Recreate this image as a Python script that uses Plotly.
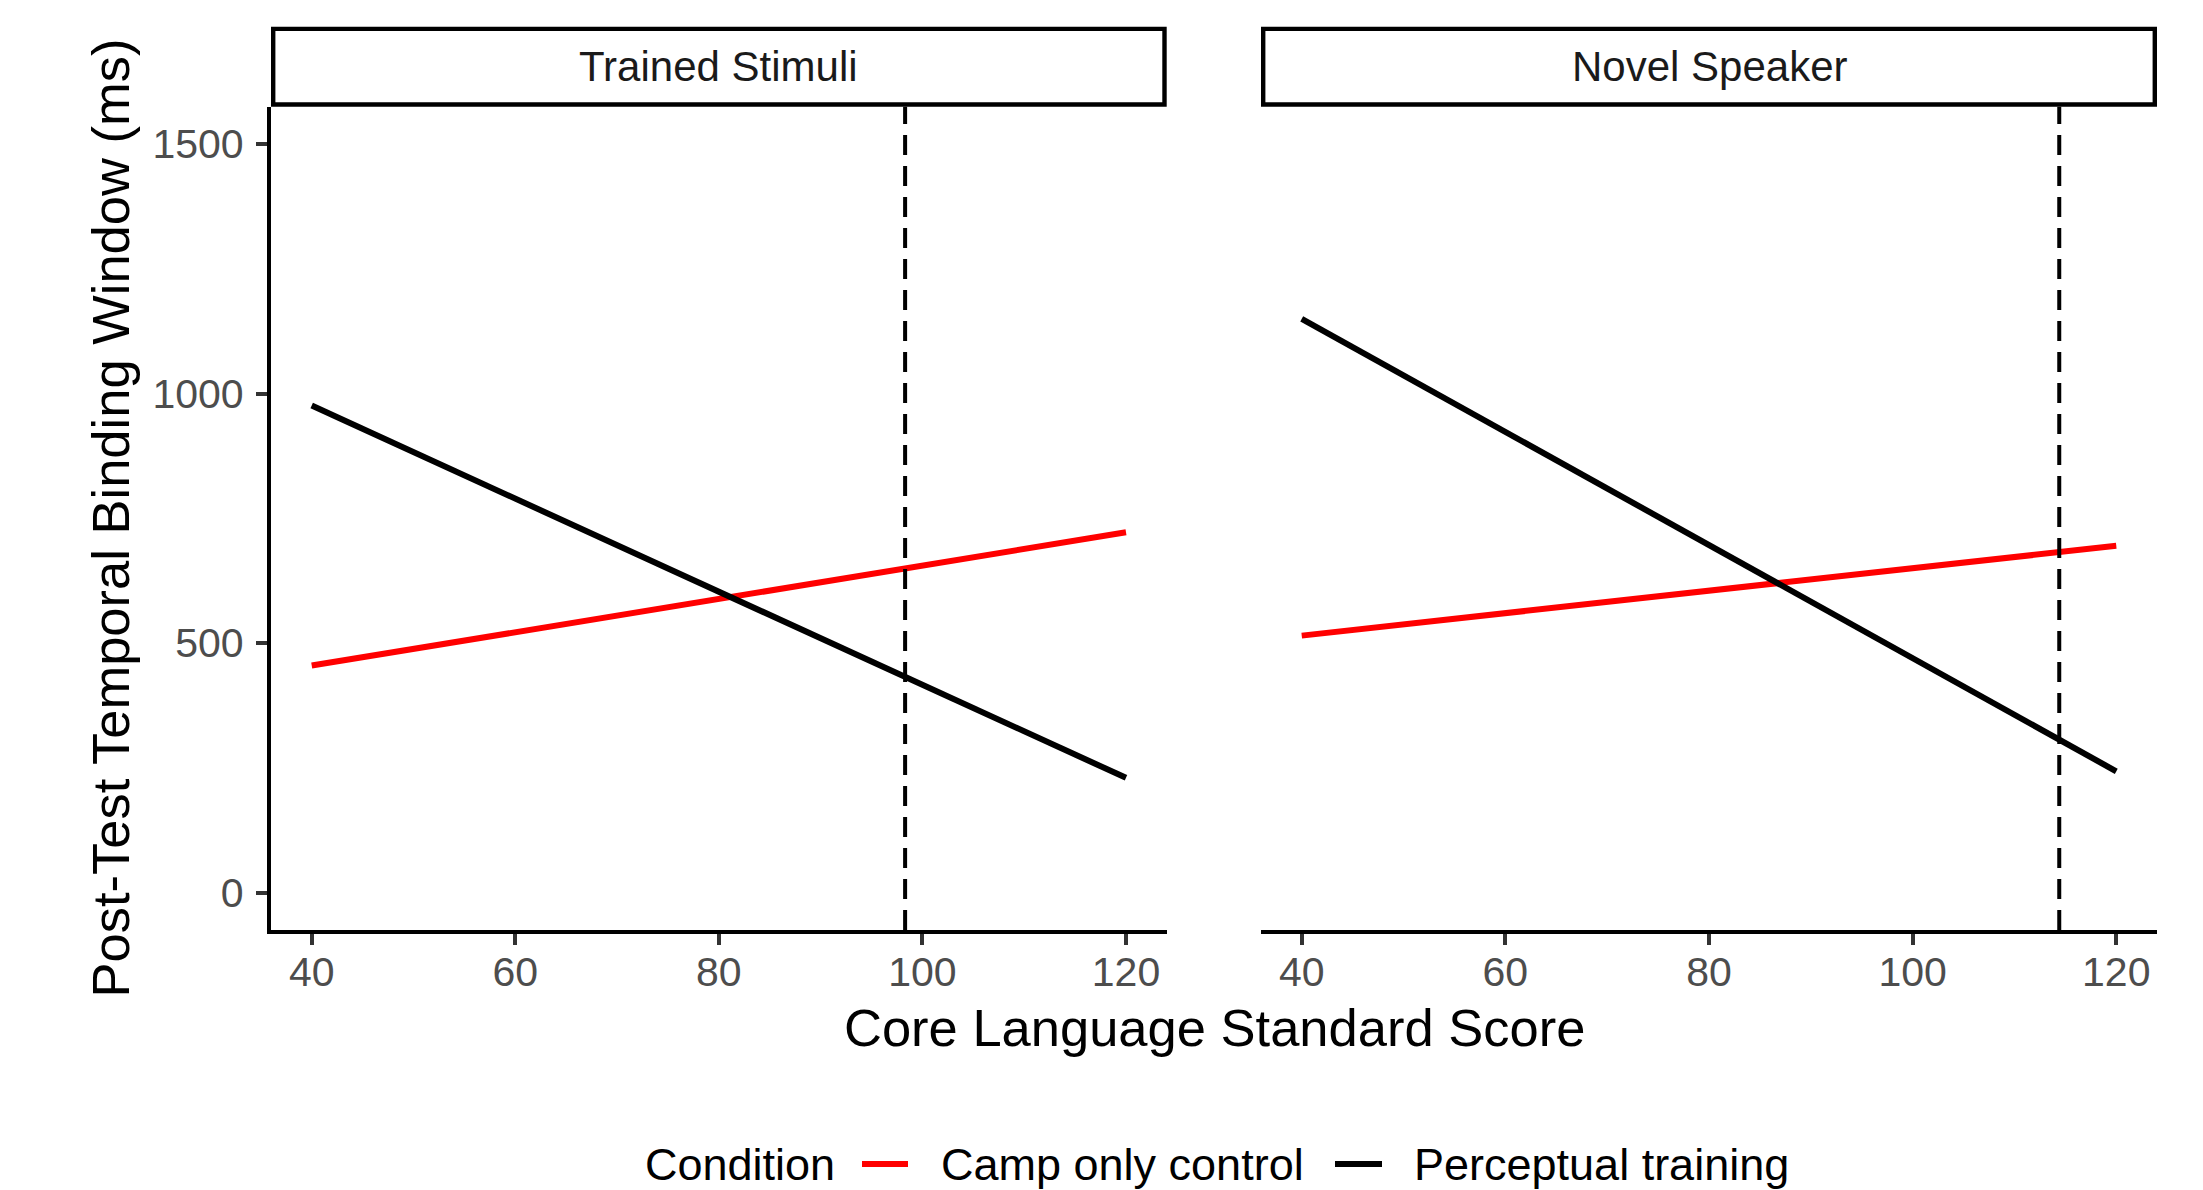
import plotly.graph_objects as go

# ---- data ----
panels = ["Trained Stimuli", "Novel Speaker"]
x_ends = [40, 120]
camp_trained = [455, 722]
perc_trained = [976, 230]
camp_novel = [515, 695]
perc_novel = [1150, 243]
vline_x = [98.3, 114.4]
x_ticks = [40, 60, 80, 100, 120]
y_ticks = [0, 500, 1000, 1500]
series_names = ["Camp only control", "Perceptual training"]
series_colors = ["#FF0000", "#000000"]
legend_title = "Condition"

W, H = 2203, 1190
FONT = "Liberation Sans, Arial, Helvetica, sans-serif"

def px_x(p):
    return p / W

def px_y(p):
    return 1 - p / H

fig = go.Figure()

panel_data = [(camp_trained, perc_trained), (camp_novel, perc_novel)]
for i, (camp, perc) in enumerate(panel_data):
    xa = "x" if i == 0 else "x2"
    ya = "y" if i == 0 else "y2"
    for j, vals in enumerate([camp, perc]):
        fig.add_trace(go.Scatter(
            x=x_ends, y=vals, mode="lines",
            line=dict(color=series_colors[j], width=6),
            name=series_names[j], legendgroup=series_names[j],
            showlegend=False, xaxis=xa, yaxis=ya, hoverinfo="skip"))

xd1 = [px_x(271), px_x(1166.7)]
xd2 = [px_x(1261), px_x(2157)]
yd = [px_y(930), px_y(106.7)]

axis_common = dict(
    range=[36, 124], tickvals=x_ticks, ticks="outside", ticklen=11, tickwidth=4,
    tickcolor="#333333", showline=True, linecolor="#000000", linewidth=4.2,
    showgrid=False, zeroline=False,
    tickfont=dict(family=FONT, size=41, color="#4D4D4D"), ticklabelstandoff=-8,
)

fig.update_layout(
    width=W, height=H,
    margin=dict(l=0, r=0, t=0, b=0),
    paper_bgcolor="white", plot_bgcolor="white",
    font=dict(family=FONT),
    xaxis=dict(domain=xd1, anchor="y", **axis_common),
    xaxis2=dict(domain=xd2, anchor="y2", **axis_common),
    yaxis=dict(domain=yd, anchor="x", range=[-75, 1575], tickvals=y_ticks,
               ticks="outside", ticklen=11, tickwidth=4, tickcolor="#333333",
               showline=True, linecolor="#000000", linewidth=4.2,
               showgrid=False, zeroline=False, ticklabelstandoff=4,
               tickfont=dict(family=FONT, size=41, color="#4D4D4D")),
    yaxis2=dict(domain=yd, anchor="x2", matches="y", range=[-75, 1575],
                showline=False, showticklabels=False, ticks="",
                showgrid=False, zeroline=False),
    showlegend=False,
)

# vertical dashed reference lines
for i, vx in enumerate(vline_x):
    xa = "x" if i == 0 else "x2"
    ya = "y" if i == 0 else "y2"
    fig.add_shape(type="line", xref=xa, yref=ya + " domain", x0=vx, x1=vx, y0=0, y1=1,
                  line=dict(color="#000000", width=4, dash="20px,11px"), layer="above")

# facet strips
strip_bounds = [(271, 1166.7), (1261, 2157)]
for (a, b), label in zip(strip_bounds, panels):
    fig.add_shape(type="rect", xref="paper", yref="paper",
                  x0=px_x(a + 2.2), x1=px_x(b - 2.2), y0=px_y(104.5), y1=px_y(28.9),
                  line=dict(color="#000000", width=4.4), fillcolor="white")
    fig.add_annotation(text=label, xref="paper", yref="paper",
                       x=px_x((a + b) / 2), y=px_y(66.7), showarrow=False,
                       xanchor="center", yanchor="middle",
                       font=dict(family=FONT, size=42, color="#1A1A1A"))

# axis titles
fig.add_annotation(text="Core Language Standard Score", xref="paper", yref="paper",
                   x=px_x(1214), y=px_y(1027), showarrow=False,
                   xanchor="center", yanchor="middle",
                   font=dict(family=FONT, size=52.5, color="#000000"))
fig.add_annotation(text="Post-Test Temporal Binding Window (ms)", xref="paper", yref="paper",
                   x=px_x(110), y=px_y(518.5), showarrow=False, textangle=-90,
                   xanchor="center", yanchor="middle",
                   font=dict(family=FONT, size=52.5, color="#000000"))

# legend (bottom, horizontal)
LEG_Y = 1164
fig.add_annotation(text=legend_title, xref="paper", yref="paper",
                   x=px_x(643), y=px_y(LEG_Y), showarrow=False,
                   xanchor="left", yanchor="middle",
                   font=dict(family=FONT, size=45, color="#000000"))
swatches = [(862, 908, 939), (1335, 1382, 1412)]
for (s0, s1, tx), name, col in zip(swatches, series_names, series_colors):
    fig.add_shape(type="line", xref="paper", yref="paper",
                  x0=px_x(s0), x1=px_x(s1), y0=px_y(LEG_Y), y1=px_y(LEG_Y),
                  line=dict(color=col, width=6))
    fig.add_annotation(text=name, xref="paper", yref="paper",
                       x=px_x(tx), y=px_y(LEG_Y), showarrow=False,
                       xanchor="left", yanchor="middle",
                       font=dict(family=FONT, size=45, color="#000000"))

# remove the browser's default 8px body margin so the figure fills the window exactly
fig.write_html("out.html",
               config={"displayModeBar": False, "staticPlot": True},
               post_script="document.body.style.margin='0px';document.body.style.overflow='hidden';")
